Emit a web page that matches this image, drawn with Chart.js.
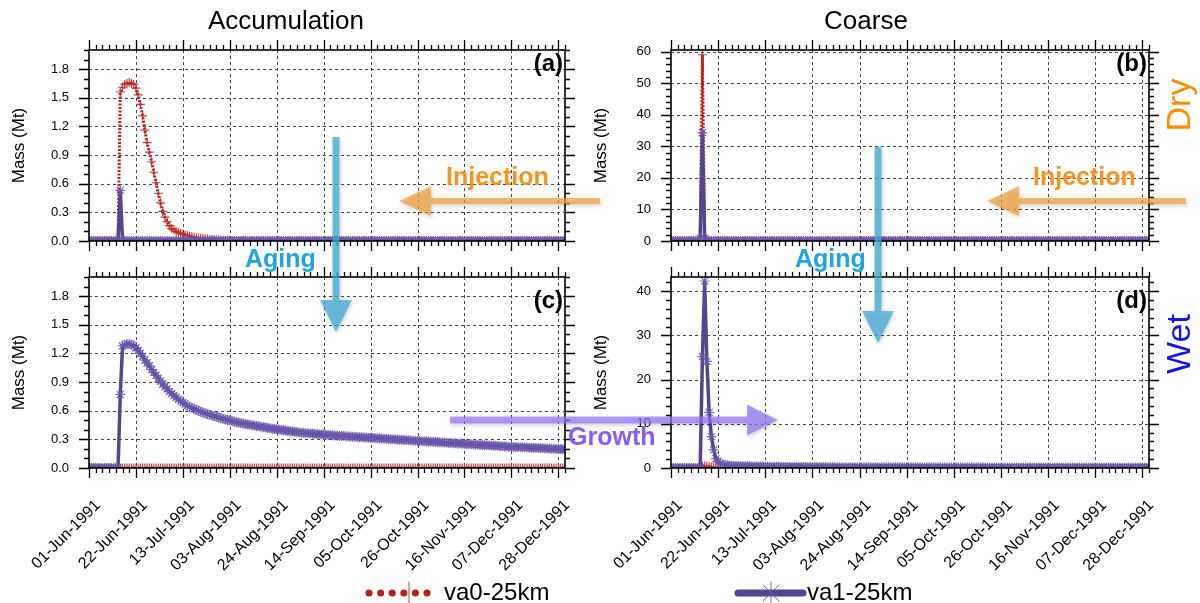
<!DOCTYPE html>
<html>
<head>
<meta charset="utf-8">
<script src="https://cdn.jsdelivr.net/npm/chart.js@4.4.1/dist/chart.umd.min.js"></script>
<style>
  body { margin: 0; background: #fff; }
  #wrap { position: relative; width: 1200px; height: 603px; background: #fff; overflow: hidden; }
  #wrap canvas { position: absolute; }
</style>
</head>
<body>
<div id="wrap">
  <canvas id="cA" width="580" height="260" style="left:0;top:0"></canvas>
  <canvas id="cB" width="620" height="260" style="left:580px;top:0"></canvas>
  <canvas id="cC" width="580" height="320" style="left:0;top:260px"></canvas>
  <canvas id="cD" width="620" height="320" style="left:580px;top:260px"></canvas>
  <canvas id="ov" width="1200" height="603" style="left:0;top:0;pointer-events:none"></canvas>
</div>
<script>
// day index from 01-Jun-1991 (0) to 31-Dec-1991 (213)
var days = Array.from({ length: 214 }, function (_, i) { return i; });
var tickLabels = ['01-Jun-1991', '22-Jun-1991', '13-Jul-1991', '03-Aug-1991', '24-Aug-1991', '14-Sep-1991',
                  '05-Oct-1991', '26-Oct-1991', '16-Nov-1991', '07-Dec-1991', '28-Dec-1991'];

// (a) Accumulation, dry  -- one row = 10 days
var accDryVa0 = [
  0,0,0,0,0,0,0,0,0,0,
  0,0,0,0,1.56,1.61,1.64,1.65,1.66,1.65,
  1.64,1.60,1.53,1.43,1.31,1.16,1.03,0.93,0.83,0.72,
  0.61,0.50,0.40,0.31,0.25,0.20,0.16,0.13,0.115,0.10,
  0.09,0.08,0.07,0.065,0.06,0.05,0.045,0.04,0.035,0.032,
  0.03,0.027,0.024,0.021,0.018,0.016,0.014,0.012,0.010,0.009,
  0.008,0.007,0.006,0.005,0.004,0.004,0.003,0.003,0.002,0.002,
  0.001,0.001,0.001,0.001,0,0,0,0,0,0,
  0,0,0,0,0,0,0,0,0,0,
  0,0,0,0,0,0,0,0,0,0,
  0,0,0,0,0,0,0,0,0,0,
  0,0,0,0,0,0,0,0,0,0,
  0,0,0,0,0,0,0,0,0,0,
  0,0,0,0,0,0,0,0,0,0,
  0,0,0,0,0,0,0,0,0,0,
  0,0,0,0,0,0,0,0,0,0,
  0,0,0,0,0,0,0,0,0,0,
  0,0,0,0,0,0,0,0,0,0,
  0,0,0,0,0,0,0,0,0,0,
  0,0,0,0,0,0,0,0,0,0,
  0,0,0,0,0,0,0,0,0,0,
  0,0,0,0
];
var accDryVa1 = [
  0,0,0,0,0,0,0,0,0,0,
  0,0,0,0,0.53,0.01,0,0,0,0,
  0,0,0,0,0,0,0,0,0,0,
  0,0,0,0,0,0,0,0,0,0,
  0,0,0,0,0,0,0,0,0,0,
  0,0,0,0,0,0,0,0,0,0,
  0,0,0,0,0,0,0,0,0,0,
  0,0,0,0,0,0,0,0,0,0,
  0,0,0,0,0,0,0,0,0,0,
  0,0,0,0,0,0,0,0,0,0,
  0,0,0,0,0,0,0,0,0,0,
  0,0,0,0,0,0,0,0,0,0,
  0,0,0,0,0,0,0,0,0,0,
  0,0,0,0,0,0,0,0,0,0,
  0,0,0,0,0,0,0,0,0,0,
  0,0,0,0,0,0,0,0,0,0,
  0,0,0,0,0,0,0,0,0,0,
  0,0,0,0,0,0,0,0,0,0,
  0,0,0,0,0,0,0,0,0,0,
  0,0,0,0,0,0,0,0,0,0,
  0,0,0,0,0,0,0,0,0,0,
  0,0,0,0
];

// (b) Coarse, dry
var coaDryVa0 = [
  0,0,0,0,0,0,0,0,0,0,
  0,0,0,0,59.0,0.6,0.1,0,0,0,
  0,0,0,0,0,0,0,0,0,0,
  0,0,0,0,0,0,0,0,0,0,
  0,0,0,0,0,0,0,0,0,0,
  0,0,0,0,0,0,0,0,0,0,
  0,0,0,0,0,0,0,0,0,0,
  0,0,0,0,0,0,0,0,0,0,
  0,0,0,0,0,0,0,0,0,0,
  0,0,0,0,0,0,0,0,0,0,
  0,0,0,0,0,0,0,0,0,0,
  0,0,0,0,0,0,0,0,0,0,
  0,0,0,0,0,0,0,0,0,0,
  0,0,0,0,0,0,0,0,0,0,
  0,0,0,0,0,0,0,0,0,0,
  0,0,0,0,0,0,0,0,0,0,
  0,0,0,0,0,0,0,0,0,0,
  0,0,0,0,0,0,0,0,0,0,
  0,0,0,0,0,0,0,0,0,0,
  0,0,0,0,0,0,0,0,0,0,
  0,0,0,0,0,0,0,0,0,0,
  0,0,0,0
];
var coaDryVa1 = [
  0,0,0,0,0,0,0,0,0,0,
  0,0,0,0.8,34.3,0.9,0.2,0.1,0,0,
  0,0,0,0,0,0,0,0,0,0,
  0,0,0,0,0,0,0,0,0,0,
  0,0,0,0,0,0,0,0,0,0,
  0,0,0,0,0,0,0,0,0,0,
  0,0,0,0,0,0,0,0,0,0,
  0,0,0,0,0,0,0,0,0,0,
  0,0,0,0,0,0,0,0,0,0,
  0,0,0,0,0,0,0,0,0,0,
  0,0,0,0,0,0,0,0,0,0,
  0,0,0,0,0,0,0,0,0,0,
  0,0,0,0,0,0,0,0,0,0,
  0,0,0,0,0,0,0,0,0,0,
  0,0,0,0,0,0,0,0,0,0,
  0,0,0,0,0,0,0,0,0,0,
  0,0,0,0,0,0,0,0,0,0,
  0,0,0,0,0,0,0,0,0,0,
  0,0,0,0,0,0,0,0,0,0,
  0,0,0,0,0,0,0,0,0,0,
  0,0,0,0,0,0,0,0,0,0,
  0,0,0,0
];

// (c) Accumulation, wet
var accWetVa0 = [
  0,0,0,0,0,0,0,0,0,0,
  0,0,0,0,0,0,0,0,0,0,
  0,0,0,0,0,0,0,0,0,0,
  0,0,0,0,0,0,0,0,0,0,
  0,0,0,0,0,0,0,0,0,0,
  0,0,0,0,0,0,0,0,0,0,
  0,0,0,0,0,0,0,0,0,0,
  0,0,0,0,0,0,0,0,0,0,
  0,0,0,0,0,0,0,0,0,0,
  0,0,0,0,0,0,0,0,0,0,
  0,0,0,0,0,0,0,0,0,0,
  0,0,0,0,0,0,0,0,0,0,
  0,0,0,0,0,0,0,0,0,0,
  0,0,0,0,0,0,0,0,0,0,
  0,0,0,0,0,0,0,0,0,0,
  0,0,0,0,0,0,0,0,0,0,
  0,0,0,0,0,0,0,0,0,0,
  0,0,0,0,0,0,0,0,0,0,
  0,0,0,0,0,0,0,0,0,0,
  0,0,0,0,0,0,0,0,0,0,
  0,0,0,0,0,0,0,0,0,0,
  0,0,0,0
];
var accWetVa1 = [
  0,0,0,0,0,0,0,0,0,0,
  0,0,0,0,0.77,1.28,1.29,1.30,1.30,1.29,
  1.28,1.26,1.23,1.20,1.17,1.13,1.10,1.07,1.03,1.00,
  0.97,0.94,0.91,0.88,0.85,0.83,0.80,0.78,0.76,0.74,
  0.72,0.70,0.685,0.67,0.655,0.64,0.63,0.62,0.61,0.60,
  0.59,0.582,0.574,0.566,0.558,0.551,0.544,0.537,0.530,0.522,
  0.515,0.509,0.503,0.497,0.491,0.486,0.480,0.475,0.470,0.465,
  0.460,0.456,0.452,0.448,0.444,0.440,0.436,0.432,0.428,0.424,
  0.420,0.416,0.412,0.409,0.405,0.402,0.398,0.395,0.392,0.388,
  0.385,0.382,0.379,0.376,0.373,0.370,0.368,0.365,0.363,0.361,
  0.360,0.358,0.356,0.354,0.352,0.350,0.348,0.346,0.344,0.342,
  0.340,0.338,0.337,0.335,0.334,0.332,0.331,0.329,0.328,0.326,
  0.325,0.323,0.322,0.320,0.319,0.317,0.316,0.314,0.313,0.311,
  0.310,0.308,0.307,0.305,0.304,0.302,0.301,0.299,0.298,0.296,
  0.295,0.293,0.292,0.290,0.289,0.287,0.286,0.284,0.283,0.281,
  0.280,0.278,0.277,0.275,0.274,0.272,0.271,0.269,0.268,0.266,
  0.265,0.263,0.262,0.260,0.259,0.257,0.256,0.254,0.253,0.251,
  0.250,0.248,0.247,0.245,0.244,0.242,0.241,0.239,0.238,0.236,
  0.235,0.233,0.232,0.230,0.229,0.227,0.226,0.224,0.223,0.221,
  0.220,0.219,0.218,0.217,0.216,0.215,0.214,0.213,0.212,0.211,
  0.210,0.209,0.208,0.207,0.205,0.204,0.203,0.202,0.201,0.200,
  0.199,0.198,0.197,0.196
];

// (d) Coarse, wet
var coaWetVa0 = [
  0,0,0,0,0,0,0,0,0,0,
  0,0,0,0,0.4,0.5,0.4,0.3,0.2,0.1,
  0,0,0,0,0,0,0,0,0,0,
  0,0,0,0,0,0,0,0,0,0,
  0,0,0,0,0,0,0,0,0,0,
  0,0,0,0,0,0,0,0,0,0,
  0,0,0,0,0,0,0,0,0,0,
  0,0,0,0,0,0,0,0,0,0,
  0,0,0,0,0,0,0,0,0,0,
  0,0,0,0,0,0,0,0,0,0,
  0,0,0,0,0,0,0,0,0,0,
  0,0,0,0,0,0,0,0,0,0,
  0,0,0,0,0,0,0,0,0,0,
  0,0,0,0,0,0,0,0,0,0,
  0,0,0,0,0,0,0,0,0,0,
  0,0,0,0,0,0,0,0,0,0,
  0,0,0,0,0,0,0,0,0,0,
  0,0,0,0,0,0,0,0,0,0,
  0,0,0,0,0,0,0,0,0,0,
  0,0,0,0,0,0,0,0,0,0,
  0,0,0,0,0,0,0,0,0,0,
  0,0,0,0
];
var coaWetVa1 = [
  0,0,0,0,0,0,0,0,0,0,
  0,0,0,0,25.2,42.3,24.1,12.6,7.1,4.1,
  2.1,1.4,1.0,0.8,0.7,0.6,0.55,0.5,0.48,0.46,
  0.44,0.42,0.41,0.40,0.39,0.38,0.37,0.36,0.35,0.34,
  0.33,0.32,0.31,0.30,0.29,0.28,0.27,0.27,0.26,0.25,
  0.25,0.24,0.24,0.23,0.23,0.22,0.22,0.21,0.21,0.20,
  0.20,0.19,0.19,0.18,0.18,0.18,0.17,0.17,0.17,0.16,
  0.16,0.16,0.15,0.15,0.15,0.14,0.14,0.14,0.14,0.13,
  0.13,0.13,0.13,0.12,0.12,0.12,0.12,0.11,0.11,0.11,
  0.11,0.11,0.10,0.10,0.10,0.10,0.10,0.10,0.10,0.10,
  0.10,0.10,0.10,0.10,0.10,0.10,0.10,0.10,0.10,0.10,
  0.09,0.09,0.09,0.09,0.09,0.09,0.09,0.09,0.09,0.09,
  0.09,0.09,0.09,0.09,0.09,0.09,0.09,0.09,0.09,0.09,
  0.09,0.09,0.09,0.09,0.09,0.09,0.09,0.09,0.09,0.09,
  0.08,0.08,0.08,0.08,0.08,0.08,0.08,0.08,0.08,0.08,
  0.08,0.08,0.08,0.08,0.08,0.08,0.08,0.08,0.08,0.08,
  0.08,0.08,0.08,0.08,0.08,0.08,0.08,0.08,0.08,0.08,
  0.07,0.07,0.07,0.07,0.07,0.07,0.07,0.07,0.07,0.07,
  0.07,0.07,0.07,0.07,0.07,0.07,0.07,0.07,0.07,0.07,
  0.07,0.07,0.07,0.07,0.07,0.07,0.07,0.07,0.07,0.07,
  0.07,0.07,0.07,0.07,0.07,0.07,0.07,0.07,0.07,0.07,
  0.07,0.07,0.07,0.07
];

var red = '#b3201f';
var redMark = 'rgba(195,45,45,0.9)';
var purple = '#55448e';
var purpleMark = 'rgba(105,85,170,0.9)';
var FONT = "'Liberation Sans', Arial, Helvetica, sans-serif";

Chart.defaults.font.family = FONT;
Chart.defaults.color = '#000';

// dashed grid, frame and outward major/minor ticks on all 4 sides
var frameTicks = {
    id: 'frameTicks',
    beforeDatasetsDraw: function (chart, args, o) {
        var ctx = chart.ctx, a = chart.chartArea, x = chart.scales.x, y = chart.scales.y;
        ctx.save();
        ctx.strokeStyle = '#444';
        ctx.lineWidth = 1;
        ctx.setLineDash([3, 3]);
        ctx.beginPath();
        for (var i = 1; i * o.xMajor < x.max; i++) {
            var px = Math.round(x.getPixelForValue(i * o.xMajor)) + 0.5;
            ctx.moveTo(px, a.top); ctx.lineTo(px, a.bottom);
        }
        for (var j = 1; j * o.yMajor < y.max - 1e-6; j++) {
            var py = Math.round(y.getPixelForValue(j * o.yMajor)) + 0.5;
            ctx.moveTo(a.left, py); ctx.lineTo(a.right, py);
        }
        ctx.stroke();
        ctx.restore();
    },
    afterDatasetsDraw: function (chart, args, o) {
        var ctx = chart.ctx, a = chart.chartArea, x = chart.scales.x, y = chart.scales.y;
        ctx.save();
        ctx.strokeStyle = '#000';
        ctx.lineWidth = 1.3;
        ctx.beginPath();
        for (var i = 0; i * o.xMinor <= x.max; i++) {
            var v = i * o.xMinor;
            var len = (v % o.xMajor === 0) ? 10 : 5;
            var px = Math.round(x.getPixelForValue(v)) + 0.5;
            ctx.moveTo(px, a.top); ctx.lineTo(px, a.top - len);
            ctx.moveTo(px, a.bottom); ctx.lineTo(px, a.bottom + len);
        }
        for (var k = 0; k * o.yMinor <= y.max + 1e-6; k++) {
            var r = k * o.yMinor / o.yMajor;
            var ylen = Math.abs(r - Math.round(r)) < 1e-6 ? 10 : 5;
            var py = Math.round(y.getPixelForValue(k * o.yMinor)) + 0.5;
            ctx.moveTo(a.left, py); ctx.lineTo(a.left - ylen, py);
            ctx.moveTo(a.right, py); ctx.lineTo(a.right + ylen, py);
        }
        ctx.stroke();
        ctx.lineWidth = 1.6;
        ctx.strokeRect(a.left, a.top, a.right - a.left, a.bottom - a.top);
        ctx.restore();
    }
};

function makePanel(id, va0, va1, yMax, yStep, yMinor, digits, showX, pad, xHeight) {
    return new Chart(document.getElementById(id), {
        type: 'line',
        data: {
            labels: days,
            datasets: [
                { label: 'va0-25km', data: va0, borderColor: red, borderWidth: 3, borderDash: [2, 1.5],
                  pointStyle: 'cross', pointRadius: 4.5, pointBorderWidth: 1.2, pointBorderColor: redMark,
                  tension: 0, order: 2 },
                { label: 'va1-25km', data: va1, borderColor: purple, borderWidth: 3.5,
                  pointStyle: 'star', pointRadius: 5, pointBorderWidth: 1.2, pointBorderColor: purpleMark,
                  tension: 0, order: 1 }
            ]
        },
        options: {
            responsive: false,
            animation: false,
            events: [],
            layout: { padding: pad },
            plugins: {
                legend: { display: false },
                tooltip: { enabled: false },
                frameTicks: { xMajor: 21, xMinor: 3, yMajor: yStep, yMinor: yMinor }
            },
            scales: {
                x: {
                    type: 'linear', min: 0, max: 213,
                    grid: { display: false, drawTicks: false },
                    border: { display: false },
                    ticks: {
                        display: showX, stepSize: 21, includeBounds: false, autoSkip: false,
                        minRotation: 45, maxRotation: 45, padding: 28, labelOffset: 9,
                        font: { size: 16 }, color: '#000',
                        callback: function (v) { return tickLabels[Math.round(v / 21)] || ''; }
                    },
                    afterFit: function (s) { s.height = xHeight; s.paddingLeft = 0; s.paddingRight = 0; }
                },
                y: {
                    min: 0, max: yMax,
                    grid: { display: false, drawTicks: false },
                    border: { display: false },
                    ticks: {
                        stepSize: yStep, includeBounds: false, padding: 20,
                        font: { size: 13 }, color: '#000',
                        callback: function (v) { return Number(v).toFixed(digits); }
                    },
                    title: { display: true, text: 'Mass (Mt)', font: { size: 17 }, color: '#000', padding: 0 },
                    afterFit: function (s) { s.width = 80; s.paddingTop = 0; s.paddingBottom = 0; }
                }
            }
        },
        plugins: [frameTicks]
    });
}

makePanel('cA', accDryVa0, accDryVa1, 2.0, 0.3, 0.1, 1, false, { left: 9, top: 50, right: 15, bottom: 0 }, 19);
makePanel('cB', coaDryVa0, coaDryVa1, 60.5, 10, 2, 0, false, { left: 11, top: 50, right: 51, bottom: 0 }, 19);
makePanel('cC', accWetVa0, accWetVa1, 2.0, 0.3, 0.1, 1, true, { left: 9, top: 17, right: 15, bottom: 0 }, 112);
makePanel('cD', coaWetVa0, coaWetVa1, 43.2, 10, 2, 0, true, { left: 11, top: 17, right: 51, bottom: 0 }, 112);

// ---- overlay: titles, panel tags, arrows, annotations, legend ----
var ov = document.getElementById('ov').getContext('2d');

function arrow(x1, y1, x2, y2, color, w, headLen, headW) {
    var dx = x2 - x1, dy = y2 - y1, L = Math.sqrt(dx * dx + dy * dy);
    var ux = dx / L, uy = dy / L, nx = -uy, ny = ux;
    var bx = x2 - ux * headLen, by = y2 - uy * headLen;
    ov.save();
    ov.fillStyle = color;
    ov.shadowColor = 'rgba(0,0,0,0.25)';
    ov.shadowBlur = 4;
    ov.shadowOffsetX = 1;
    ov.shadowOffsetY = 2;
    ov.beginPath();
    ov.moveTo(x1 + nx * w / 2, y1 + ny * w / 2);
    ov.lineTo(bx + nx * w / 2, by + ny * w / 2);
    ov.lineTo(bx + nx * headW / 2, by + ny * headW / 2);
    ov.lineTo(x2, y2);
    ov.lineTo(bx - nx * headW / 2, by - ny * headW / 2);
    ov.lineTo(bx - nx * w / 2, by - ny * w / 2);
    ov.lineTo(x1 - nx * w / 2, y1 - ny * w / 2);
    ov.closePath();
    ov.fill();
    ov.restore();
}

function text(str, x, y, size, color, bold, align, rot) {
    ov.save();
    ov.font = (bold ? 'bold ' : '') + size + 'px ' + FONT;
    ov.fillStyle = color;
    ov.textAlign = align || 'left';
    ov.textBaseline = 'middle';
    ov.translate(x, y);
    if (rot) ov.rotate(rot);
    ov.fillText(str, 0, 0);
    ov.restore();
}

text('Accumulation', 286, 22, 26, '#000', false, 'center');
text('Coarse', 866, 22, 26, '#000', false, 'center');
text('(a)', 563, 64, 24, '#000', true, 'right');
text('(b)', 1147, 64, 24, '#000', true, 'right');
text('(c)', 563, 301, 24, '#000', true, 'right');
text('(d)', 1147, 301, 24, '#000', true, 'right');
text('Dry', 1181, 105, 34, '#ff8c00', false, 'center', -Math.PI / 2);
text('Wet', 1181, 344, 34, '#1414e6', false, 'center', -Math.PI / 2);

var orange = 'rgba(244,160,58,0.72)';
var sky = 'rgba(64,172,216,0.75)';
var lilac = 'rgba(150,118,244,0.72)';
arrow(600, 201, 399, 201, orange, 6, 32, 30);
arrow(1186, 201, 987, 201, orange, 6, 32, 30);
arrow(336, 137, 336, 332, sky, 7, 32, 32);
arrow(878, 147, 878, 343, sky, 7, 32, 32);
arrow(450, 420, 778, 420, lilac, 7, 31, 31);

text('Injection', 446, 178, 25, '#f7931e', true, 'left');
text('Injection', 1033, 178, 25, '#f7931e', true, 'left');
text('Aging', 245, 260, 25, '#1ea6dc', true, 'left');
text('Aging', 795, 260, 25, '#1ea6dc', true, 'left');
text('Growth', 568, 438, 25, '#8a5cf6', true, 'left');

// legend
(function () {
    var ly = 593;
    ov.save();
    ov.strokeStyle = red;
    ov.lineWidth = 7;
    ov.lineCap = 'round';
    ov.setLineDash([0.1, 11.5]);
    ov.beginPath(); ov.moveTo(369, ly); ov.lineTo(436, ly); ov.stroke();
    ov.setLineDash([]);
    ov.lineWidth = 1;
    ov.strokeStyle = redMark;
    ov.beginPath(); ov.moveTo(409, ly - 11); ov.lineTo(409, ly + 11); ov.stroke();
    ov.strokeStyle = purple;
    ov.lineWidth = 7;
    ov.beginPath(); ov.moveTo(738, ly); ov.lineTo(803, ly); ov.stroke();
    ov.lineWidth = 1;
    ov.strokeStyle = purpleMark;
    ov.beginPath();
    ov.moveTo(771, ly - 11); ov.lineTo(771, ly + 11);
    ov.moveTo(763, ly - 8); ov.lineTo(779, ly + 8);
    ov.moveTo(763, ly + 8); ov.lineTo(779, ly - 8);
    ov.stroke();
    ov.restore();
    text('va0-25km', 444, ly, 24, '#000', false, 'left');
    text('va1-25km', 807, ly, 24, '#000', false, 'left');
})();
</script>
</body>
</html>
